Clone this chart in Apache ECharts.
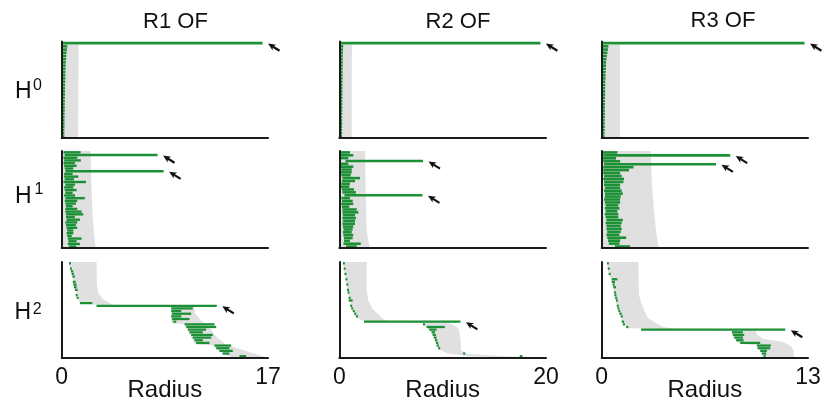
<!DOCTYPE html>
<html><head><meta charset="utf-8">
<script src="https://cdn.jsdelivr.net/npm/echarts@6/dist/echarts.min.js"></script>
<style>html,body{margin:0;padding:0;background:#fff}#c{width:824px;height:404px}</style>
</head><body><div id="c"></div>
<script>
// ---------- labels ----------
const colTitles = ['R1 OF', 'R2 OF', 'R3 OF'];
const rowSup = ['0', '1', '2'];
const xMax = [17, 20, 13];
const xName = 'Radius';

// ---------- H0 ----------
const h0r1Birth = [0,0,0,0,0,0,0,0,0,0,0,0,0,0,0,0,0,0,0,0,0,0,0,0,0,0,0,0,0,0];
const h0r1Death = [16.55,0.46,0.44,0.4,0.38,0.36,0.34,0.33,0.32,0.31,0.3,0.3,0.29,0.28,0.28,0.27,0.27,0.26,0.26,0.25,0.25,0.25,0.24,0.24,0.23,0.23,0.23,0.22,0.22,0.22];
const h0r1Grey = [[0,0.5],[1.4,0.5],[1.37,15],[1.35,29.5],[0,29.5]];

const h0r2Birth = [0,0,0,0,0,0,0,0,0,0,0,0,0,0,0,0,0,0,0,0,0,0,0,0,0,0,0,0,0,0];
const h0r2Death = [19.46,0.38,0.36,0.35,0.34,0.34,0.33,0.33,0.32,0.32,0.32,0.31,0.31,0.31,0.3,0.3,0.3,0.3,0.29,0.29,0.29,0.29,0.28,0.28,0.28,0.28,0.27,0.27,0.27,0.27];
const h0r2Grey = [[0,0.5],[1.22,0.5],[1.2,15],[1.2,29.5],[0,29.5]];

const h0r3Birth = [0,0,0,0,0,0,0,0,0,0,0,0,0,0,0,0,0,0,0,0,0,0,0,0,0,0,0,0,0,0];
const h0r3Death = [12.78,0.42,0.4,0.36,0.33,0.3,0.28,0.27,0.26,0.25,0.24,0.24,0.23,0.23,0.22,0.22,0.22,0.21,0.21,0.21,0.2,0.2,0.2,0.2,0.19,0.19,0.19,0.19,0.18,0.18];
const h0r3Grey = [[0,0.5],[1.15,0.5],[1.15,29.5],[0,29.5]];

// ---------- H1 ----------
const h1r1Birth = [0.15,0.25,0.15,0.2,0.15,0.2,0.25,0.3,0.2,0.2,0.25,0.15,0.3,0.2,0.25,0.3,0.2,0.3,0.25,0.3,0.35,0.3,0.3,0.35,0.35,0.4,0.3,0.35,0.4,0.45,0.4,0.45,0.5,0.55,0.5,0.6];
const h1r1Death = [1.56,7.9,1.28,1.58,1.09,1.23,0.95,8.4,0.9,1.37,1.01,2.0,1.09,0.96,1.23,0.9,1.09,1.91,1.28,1.17,0.9,1.28,1.64,1.77,1.09,1.5,1.28,1.17,1.28,0.96,0.96,0.82,1.64,1.23,1.5,1.2];
const h1r1Grey = [[0,-0.5],[2.38,-0.5],[2.45,12],[2.55,24],[2.7,32],[2.8,35.5],[0,35.5]];

const h1r2Birth = [0.1,0.15,0.1,0.6,0.1,0.15,0.2,0.15,0.2,0.3,0.25,0.2,0.15,0.25,0.3,0.5,0.2,0.25,0.2,0.25,0.3,0.3,0.35,0.3,0.35,0.3,0.35,0.4,0.35,0.4,0.45,0.45,0.4,0.65];
const h1r2Death = [1.03,1.35,0.87,8.1,0.87,1.35,1.2,1.2,1.1,2.0,1.52,1.03,0.97,1.42,1.61,8.05,1.03,1.29,1.35,0.97,1.68,1.84,1.52,1.61,1.52,1.52,1.35,1.29,1.2,1.35,1.29,1.03,2.07,1.68];
const h1r2Grey = [[0,-0.5],[2.5,-0.5],[2.55,15],[2.65,28],[2.8,31],[3.0,33.5],[0,33.5]];

const h1r3Birth = [0.05,0.1,0.05,0.1,0.15,0.1,0.1,0.1,0.15,0.1,0.15,0.15,0.2,0.15,0.2,0.2,0.15,0.2,0.25,0.2,0.25,0.2,0.25,0.3,0.25,0.3,0.3,0.35,0.3,0.35,0.4,0.45,0.84];
const h1r3Death = [0.99,8.1,0.9,1.16,7.2,2.0,1.72,1.16,1.26,1.41,1.37,1.16,1.16,1.26,1.33,1.2,1.16,1.16,1.05,1.12,0.99,1.05,1.05,1.33,1.26,1.2,1.26,1.2,1.12,1.54,1.16,1.12,1.79];
const h1r3Grey = [[0,-0.5],[3.1,-0.5],[3.15,10],[3.3,20],[3.45,28],[3.6,32.5],[0,32.5]];

// ---------- H2 ----------
const h2r1Rank  = [0,2,3,4,5,7,8,9,10,12,13,15,16,17,18,19,20,21,22,23,24,25,26,27,28,29,30,31,32,33,34,35];
const h2r1Birth = [0.6,0.68,0.76,0.82,0.89,0.92,0.95,1.01,1.09,1.15,1.23,1.5,2.87,9.03,9.03,9.1,9.03,9.1,9.2,10.13,10.26,10.4,10.53,10.67,10.8,10.94,11.08,12.59,12.73,13.0,13.27,14.65];
const h2r1Death = [0.76,0.82,0.95,1.01,1.09,1.15,1.23,1.23,1.31,1.31,1.37,2.52,12.78,10.8,9.85,10.67,9.85,10.53,9.44,12.59,12.73,11.9,11.63,12.45,12.32,11.63,12.18,13.96,13.82,14.1,13.82,15.2];
const h2r1Grey = [[0.55,-0.5],[0.8,4],[1.1,9],[1.4,14],[1.5,15],[2.9,15.6],[9.0,16.4],[9.0,22.5],[10.1,23],[11.0,30.5],[12.5,31],[13.3,34.5],[14.3,35.5],
                  [16.9,35.5],[15.8,34],[14.5,32],[13.5,30.5],[12.6,27],[12.2,24],[11.6,22],[11.0,19],[10.9,16.4],[4.2,15.6],[3.4,13.5],[3.0,11],[2.9,8],[2.87,-0.5]];

const h2r2Rank  = [0,2,4,6,8,10,11,13,14,16,17,18,19,20,22,23,24,25,26,27,28,29,30,31,32,34,35];
const h2r2Birth = [0.35,0.42,0.5,0.6,0.68,0.74,0.8,0.9,0.9,1.05,1.15,1.3,1.45,1.62,2.39,8.1,8.44,8.7,8.93,9.03,9.15,9.25,9.35,9.41,9.57,11.98,17.46];
const h2r2Death = [0.45,0.52,0.6,0.7,0.87,0.84,0.95,1.0,1.29,1.15,1.25,1.4,1.55,1.72,11.72,8.28,10.21,9.41,9.25,9.35,9.41,9.48,9.57,9.64,9.73,12.14,17.72];
const h2r2Grey = [[0.35,-0.5],[0.6,6],[0.9,12],[1.2,17],[1.6,20.5],[2.4,21.6],[8.1,22.4],[8.3,23.5],[8.9,26],[9.4,30],[9.6,32.5],[10.5,34],[12.5,35],[17.5,35.5],
                  [20,35.5],[16,35],[12.5,34.2],[11.8,33],[11.7,28],[11.6,25],[11.2,23.5],[10.5,22.4],[4.6,21.6],[4.1,20.5],[3.7,19],[3.2,17],[2.8,14],[2.65,10],[2.65,-0.5]];

const h2r3Rank  = [0,2,4,6,7,8,9,11,12,13,14,16,17,18,19,20,22,23,24,25,26,27,28,29,30,31,32,33,34,35];
const h2r3Birth = [0.33,0.38,0.44,0.63,0.63,0.69,0.73,0.78,0.8,0.85,0.9,0.95,0.99,1.05,1.11,1.2,1.26,1.33,1.54,2.48,8.2,8.26,8.35,8.47,8.73,9.78,9.82,9.99,10.09,10.2];
const h2r3Death = [0.4,0.46,0.52,0.99,0.84,0.78,0.9,0.86,0.88,0.93,0.99,1.07,1.11,1.16,1.26,1.33,1.41,1.47,1.68,11.57,8.9,8.98,8.9,8.94,9.99,10.66,10.62,10.41,10.37,10.3];
const h2r3Grey = [[0.33,-0.5],[0.45,4],[0.65,7],[0.8,12],[0.95,16],[1.2,20],[1.4,23],[1.6,24.5],[2.48,24.6],[8.2,25.4],[8.2,26.5],[8.5,29.5],[8.75,30.3],[9.8,30.8],[10.2,35.5],
                  [12.1,35.5],[12.1,33],[11.9,31],[11.3,29.5],[10.2,28.5],[9.8,27],[9.7,25.4],[4.6,24.6],[3.9,24],[3.26,22],[2.9,20.5],[2.7,18],[2.5,15],[2.35,12],[2.31,-0.5]];

// ---------- panels ----------
const panels = [
  {row:0,col:0,n:30,birth:h0r1Birth,death:h0r1Death,grey:h0r1Grey,arrows:[0]},
  {row:0,col:1,n:30,birth:h0r2Birth,death:h0r2Death,grey:h0r2Grey,arrows:[0]},
  {row:0,col:2,n:30,birth:h0r3Birth,death:h0r3Death,grey:h0r3Grey,arrows:[0]},
  {row:1,col:0,n:36,birth:h1r1Birth,death:h1r1Death,grey:h1r1Grey,arrows:[1,7]},
  {row:1,col:1,n:34,birth:h1r2Birth,death:h1r2Death,grey:h1r2Grey,arrows:[3,15]},
  {row:1,col:2,n:33,birth:h1r3Birth,death:h1r3Death,grey:h1r3Grey,arrows:[1,4]},
  {row:2,col:0,n:36,birth:h2r1Birth,death:h2r1Death,rank:h2r1Rank,grey:h2r1Grey,arrows:[12]},
  {row:2,col:1,n:36,birth:h2r2Birth,death:h2r2Death,rank:h2r2Rank,grey:h2r2Grey,arrows:[14]},
  {row:2,col:2,n:36,birth:h2r3Birth,death:h2r3Death,rank:h2r3Rank,grey:h2r3Grey,arrows:[19]}
];

// ---------- layout / style ----------
const GREEN = '#1b9034', GREY = '#e0e0e0', AX = '#1a1a1a', TXT = '#111';
const FONT = '"Liberation Sans", Arial, Helvetica, sans-serif';
const colLeft = [61.7, 339.3, 601.7], colWidth = [206.3, 206.7, 206.3];
const rowTop = [41.5, 151, 262], rowHeight = [96.5, 97, 95.5];
const barFrac = [0.8, 0.9, 0.85];
const titlePos = [[175.5, 22], [458, 21.5], [723, 21]];
const hPos = [[23.3, 92], [23.3, 197], [22.8, 312.5]];
const supPos = [[37.5, 86], [39, 190], [37.2, 309.5]];

const grid = [], xAxis = [], yAxis = [], series = [];
panels.forEach((p, k) => {
  const r = p.row, c = p.col;
  grid.push({left: colLeft[c], top: rowTop[r], width: colWidth[c], height: rowHeight[r], containLabel: false, outerBoundsMode: 'none'});
  xAxis.push({
    gridIndex: k, type: 'value', min: 0, max: xMax[c], interval: xMax[c], z: 5,
    axisLine: {show: true, onZero: false, lineStyle: {color: AX, width: 2}},
    axisTick: {show: false}, splitLine: {show: false},
    axisLabel: {show: r === 2, fontSize: 23, color: TXT, margin: 9, fontFamily: FONT, showMinLabel: true, showMaxLabel: true},
    name: r === 2 ? xName : '', nameLocation: 'middle', nameGap: 21, nameMoveOverlap: false,
    nameTextStyle: {fontSize: 24, color: TXT, fontFamily: FONT, verticalAlign: 'top'}
  });
  yAxis.push({
    gridIndex: k, type: 'value', min: -0.5, max: p.n - 0.5, inverse: true, z: 5,
    axisLine: {show: true, onZero: false, lineStyle: {color: AX, width: 2}},
    axisTick: {show: false}, splitLine: {show: false}, axisLabel: {show: false}
  });
  const rankOf = i => p.rank ? p.rank[i] : i;
  const frac = barFrac[r];
  // grey envelope
  series.push({
    type: 'custom', xAxisIndex: k, yAxisIndex: k, z: 1, silent: true, animation: false,
    data: p.grey, encode: {x: 0, y: 1},
    renderItem: (params, api) => {
      if (params.dataIndex !== 0) return null;
      const pts = p.grey.map(q => api.coord(q));
      return {type: 'polygon', shape: {points: pts}, style: {fill: GREY}};
    }
  });
  // green bars
  series.push({
    type: 'custom', xAxisIndex: k, yAxisIndex: k, z: 3, silent: true, animation: false,
    data: p.birth.map((b, i) => [b, p.death[i], rankOf(i)]), encode: {x: [0, 1], y: 2},
    renderItem: (params, api) => {
      const rk = api.value(2);
      const s = api.coord([api.value(0), rk]);
      const e = api.coord([api.value(1), rk]);
      const h = Math.abs(api.size([0, 1])[1]);
      const bh = Math.max(h * frac, 1.8);
      return {type: 'rect', shape: {x: s[0], y: s[1] - bh / 2, width: Math.max(e[0] - s[0], 2), height: bh}, style: {fill: GREEN}};
    }
  });
  // arrows pointing at the long bars
  series.push({
    type: 'custom', xAxisIndex: k, yAxisIndex: k, z: 4, silent: true, animation: false,
    data: p.arrows.map(i => [p.death[i], rankOf(i)]), encode: {x: 0, y: 1},
    renderItem: (params, api) => {
      const c0 = api.coord([api.value(0), api.value(1)]);
      const T = [c0[0] + 5.5, c0[1] + 0.5];
      const u = [0.85, 0.53], nv = [-0.53, 0.85];
      const P = (a, b) => [T[0] + a * u[0] + b * nv[0], T[1] + a * u[1] + b * nv[1]];
      const s0 = P(5, 0), s1 = P(13.5, 0);
      return {type: 'group', children: [
        {type: 'polygon', shape: {points: [T, P(7.5, 3.4), P(5.5, 0), P(7.5, -3.4)]}, style: {fill: '#111'}},
        {type: 'line', shape: {x1: s0[0], y1: s0[1], x2: s1[0], y2: s1[1]}, style: {stroke: '#111', lineWidth: 2.2}}
      ]};
    }
  });
});

const graphic = [];
colTitles.forEach((t, i) => graphic.push({type: 'text', x: titlePos[i][0], y: titlePos[i][1],
  style: {text: t, fill: TXT, font: '22px ' + FONT, align: 'center', verticalAlign: 'middle'}}));
rowSup.forEach((s, i) => {
  graphic.push({type: 'text', x: hPos[i][0], y: hPos[i][1],
    style: {text: 'H', fill: TXT, font: '23px ' + FONT, align: 'center', verticalAlign: 'middle'}});
  graphic.push({type: 'text', x: supPos[i][0], y: supPos[i][1],
    style: {text: s, fill: TXT, font: '16px ' + FONT, align: 'center', verticalAlign: 'middle'}});
});

const chart = echarts.init(document.getElementById('c'), null, {renderer: 'canvas'});
chart.setOption({animation: false, backgroundColor: '#fff', grid, xAxis, yAxis, series, graphic});
</script></body></html>
